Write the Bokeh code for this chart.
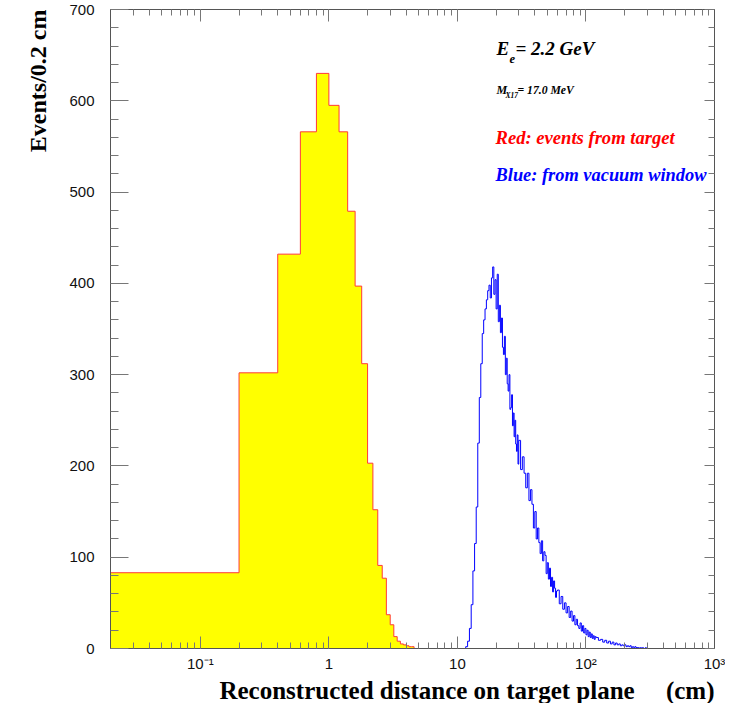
import numpy as np
from bokeh.plotting import figure
from bokeh.models import (Label, LinearAxis, LogAxis, SingleIntervalTicker,
                          LogTicker, CustomJSTickFormatter, Title)
from bokeh.embed import file_html
from bokeh.resources import INLINE

# ---------------- data ----------------
X_LO, X_HI = 0.02, 1000.0
Y_LO, Y_HI = 0, 700

# target events (red / yellow), bins of 0.2 cm starting at 0
red_bin_start = 0.0
red_bin_width = 0.2
red_counts = [83, 302, 432, 566, 630, 595, 566, 479, 397, 312, 203, 152,
              91, 77, 37, 26, 13, 8, 5, 4, 3, 2, 2]

# vacuum-window events (blue) in segments
blue_a_start, blue_a_width = 10.0, 0.4
blue_a = [0, 0, 0, 0, 2, 8, 22, 48, 85, 115,
          155, 225, 275, 312, 345, 360, 372, 382, 392, 398,
          384, 406, 418, 388, 404, 372, 410, 358, 376, 346,
          362, 330, 322, 342, 300, 318, 290, 282, 300, 262,
          264, 278, 244, 258, 232, 250, 224, 216, 234, 202]
blue_b_start, blue_b_width = 30.0, 1.0
blue_b = [228, 196, 210, 192, 176, 192, 162, 174, 158, 132,
          150, 120, 132, 116, 104, 118, 96, 106, 102, 82,
          94, 76, 88, 68, 78, 62, 74, 66, 56, 63]
blue_c_start, blue_c_width = 60.0, 2.0
blue_c = [64, 49, 57, 43, 50, 39, 46, 34, 41, 30,
          36, 26, 32, 25, 22, 28, 19, 25, 17, 22,
          15, 20, 13, 18, 12, 16, 11, 14, 10, 13]
blue_d_start, blue_d_width = 120.0, 5.0
blue_d = [12, 9, 10, 7, 9, 6, 8, 5, 7, 4, 6, 4, 5, 3, 4, 3, 4, 2,
          3, 2, 3, 1, 2, 1, 2, 1, 1, 1, 0, 1, 0, 1, 0, 0, 1, 0]


def step_path(segments, x_min):
    xs, ys = [], []
    for start, width, vals in segments:
        for i, v in enumerate(vals):
            lo = max(start + i * width, x_min)
            hi = start + (i + 1) * width
            if not xs:
                xs.append(lo)
                ys.append(0)
            xs += [lo, hi]
            ys += [v, v]
    xs.append(xs[-1])
    ys.append(0)
    return xs, ys


red_x, red_y = step_path([(red_bin_start, red_bin_width, red_counts)], X_LO)
blue_x, blue_y = step_path([(blue_a_start, blue_a_width, blue_a),
                            (blue_b_start, blue_b_width, blue_b),
                            (blue_c_start, blue_c_width, blue_c),
                            (blue_d_start, blue_d_width, blue_d)], X_LO)

# ---------------- figure ----------------
p = figure(width=725, height=703, x_axis_type="log",
           x_range=(X_LO, X_HI), y_range=(Y_LO, Y_HI),
           output_backend="svg", toolbar_location=None,
           min_border_left=110, min_border_right=11,
           min_border_top=9, min_border_bottom=51)
p.grid.visible = False
p.outline_line_color = "#444444"
p.background_fill_color = "white"
p.border_fill_color = "white"

p.patch(red_x, red_y, fill_color="#ffff00", line_color=None)
p.line(red_x + [X_HI], red_y + [0], line_color="#ff3a3a", line_width=1)
p.line(blue_x, blue_y, line_color="#0000ff", line_width=1)

AX = "#555555"
TK = "#777777"

xa = p.xaxis[0]
xa.ticker = LogTicker(mantissas=[1], num_minor_ticks=10)
xa.formatter = CustomJSTickFormatter(code="""
const e = Math.round(Math.log10(tick));
if (e == 0) return "1";
if (e == 1) return "10";
if (e == -1) return "10\\u207b\\u00b9";
if (e == 2) return "10\\u00b2";
if (e == 3) return "10\\u00b3";
return "10^" + e;
""")
ya = p.yaxis[0]
ya.ticker = SingleIntervalTicker(interval=100, num_minor_ticks=5)

for ax in (xa, ya):
    ax.axis_line_color = AX
    ax.major_tick_line_color = TK
    ax.minor_tick_line_color = TK
    ax.major_tick_out = 0
    ax.minor_tick_out = 0
    ax.major_label_text_font = "Liberation Sans"
    ax.major_label_text_font_size = "15px"
    ax.major_label_text_color = "#111111"
xa.major_tick_in = 12
xa.minor_tick_in = 6
xa.major_label_standoff = 6
ya.major_tick_in = 18
ya.minor_tick_in = 8
ya.major_label_standoff = 16

ra = LinearAxis(ticker=SingleIntervalTicker(interval=100, num_minor_ticks=5))
ta = LogAxis(ticker=LogTicker(mantissas=[1], num_minor_ticks=10))
for ax, tin, mtin in ((ra, 10, 6), (ta, 12, 6)):
    ax.axis_line_color = AX
    ax.major_tick_line_color = TK
    ax.minor_tick_line_color = TK
    ax.major_tick_out = 0
    ax.minor_tick_out = 0
    ax.major_tick_in = tin
    ax.minor_tick_in = mtin
    ax.formatter = CustomJSTickFormatter(code="return '';")
    ax.major_label_standoff = 0
p.add_layout(ra, "right")
p.add_layout(ta, "above")

SERIF = "Liberation Serif"

# axis titles
p.add_layout(Title(text="Events/0.2 cm", align="right", vertical_align="top",
                   text_font=SERIF, text_font_size="24px", text_font_style="bold",
                   text_color="black", standoff=28), "left")
p.add_layout(Title(text="Reconstructed distance on target plane" + "\u00a0" * 5 + "(cm)",
                   align="right", text_font=SERIF, text_font_size="25px",
                   text_font_style="bold", text_color="black", standoff=0), "below")


def lab(text, x, y, size, color="black", style="bold italic"):
    # x in screen pixels from the frame's left edge, y in data units
    p.add_layout(Label(text=text, x=x, y=y, x_units="screen", y_units="data",
                       text_font=SERIF, text_font_size=size, text_font_style=style,
                       text_color=color))


# annotations
lab("E", 386, 646, "19px")
lab("e", 399, 641, "12.5px")
lab("= 2.2 GeV", 405, 646, "19px")
lab("M", 386, 604, "12px")
lab("X17", 395, 601, "7.5px")
lab("= 17.0 MeV", 407, 604, "11.7px")
lab("Red: events from target", 385, 548, "18.6px", color="#ff0000")
lab("Blue: from vacuum window", 385, 508, "18.4px", color="#0000ff")

open("out.html", "w").write(file_html(p, INLINE))
